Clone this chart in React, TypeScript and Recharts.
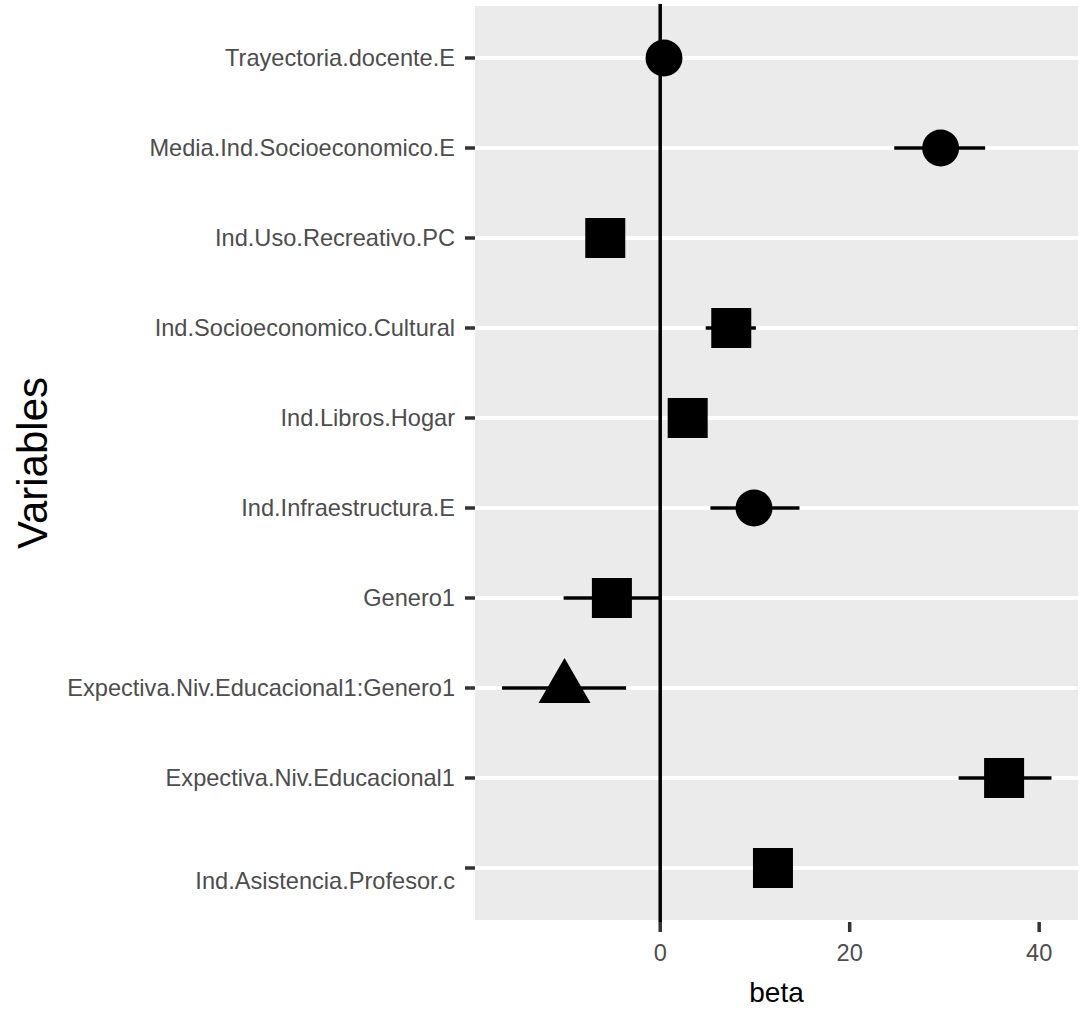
import React from 'react'
import { ScatterChart, Scatter, XAxis, YAxis, CartesianGrid, ReferenceLine, ErrorBar } from 'recharts'

// bottom to top, in plotting order
const variables = [
  '\nInd.Asistencia.Profesor.c',
  'Expectiva.Niv.Educacional1',
  'Expectiva.Niv.Educacional1:Genero1',
  'Genero1',
  'Ind.Infraestructura.E',
  'Ind.Libros.Hogar',
  'Ind.Socioeconomico.Cultural',
  'Ind.Uso.Recreativo.PC',
  'Media.Ind.Socioeconomico.E',
  'Trayectoria.docente.E',
]
const beta = [11.9, 36.3, -10.1, -5.1, 9.9, 2.9, 7.5, -5.8, 29.6, 0.4]
const lower = [10.7, 31.5, -16.7, -10.2, 5.3, 1.6, 4.8, -7.1, 24.7, -0.2]
const upper = [13.1, 41.3, -3.6, -0.1, 14.7, 4.2, 10.1, -4.5, 34.3, 1.0]
const shapes = ['square', 'square', 'triangle', 'square', 'circle', 'square', 'square', 'square', 'circle', 'circle']
const betaTicks = [0, 20, 40]

const data = variables.map((v, i) => ({
  y: i + 1,
  beta: beta[i],
  err: [beta[i] - lower[i], upper[i] - beta[i]],
  shape: shapes[i],
}))

const FONT = '"Liberation Sans", Arial, sans-serif'

const PointShape = (props: any) => {
  const { cx, cy, payload } = props
  if (payload.shape === 'circle') return <circle cx={cx} cy={cy} r={18.5} fill="#000" />
  if (payload.shape === 'triangle') {
    const s = 52
    const h = (s * Math.sqrt(3)) / 2
    const top = cy - (2 * h) / 3
    const base = cy + h / 3
    return <polygon points={`${cx},${top} ${cx - s / 2},${base} ${cx + s / 2},${base}`} fill="#000" />
  }
  return <rect x={cx - 20} y={cy - 20} width={40} height={40} fill="#000" />
}

const VarTick = ({ x, y, payload }: any) => {
  const lines = String(variables[payload.value - 1] ?? '').split('\n')
  const lh = 26
  const y0 = y - ((lines.length - 1) * lh) / 2
  return (
    <text x={x} y={y0} textAnchor="end" dominantBaseline="central" fill="#4D4D4D" fontSize={23.6} fontFamily={FONT}>
      {lines.map((l, i) => (
        <tspan key={i} x={x} dy={i === 0 ? 0 : lh}>{l}</tspan>
      ))}
    </text>
  )
}

const YTitle = ({ viewBox }: any) => {
  const x = 47
  const cy = viewBox.y + viewBox.height / 2
  return (
    <text x={x} y={cy} transform={`rotate(-90, ${x}, ${cy})`} textAnchor="middle" fill="#000" fontSize={42} fontFamily={FONT}>
      Variables
    </text>
  )
}

export default function App() {
  return (
    <div style={{ position: 'absolute', left: 0, top: 0, background: '#fff' }}>
      <ScatterChart width={1083} height={1010} margin={{ top: 4, right: 5, bottom: 0, left: 0 }}>
        <CartesianGrid vertical={false} stroke="#fff" strokeWidth={3.8} fill="#EBEBEB" fillOpacity={1} />
        <XAxis
          type="number"
          dataKey="beta"
          domain={[-19.55, 44.1]}
          ticks={betaTicks}
          allowDataOverflow
          axisLine={false}
          tickLine={{ stroke: '#333', strokeWidth: 3.5 }}
          tickSize={10}
          tickMargin={12}
          height={88}
          tick={{ fill: '#4D4D4D', fontSize: 23.6, fontFamily: FONT }}
          label={{ value: 'beta', position: 'insideBottom', offset: 8, fill: '#000', fontSize: 28, fontFamily: FONT }}
        />
        <YAxis
          type="number"
          dataKey="y"
          domain={[0.4, 10.6]}
          ticks={[1, 2, 3, 4, 5, 6, 7, 8, 9, 10]}
          interval={0}
          allowDataOverflow
          axisLine={false}
          tickLine={{ stroke: '#333', strokeWidth: 3.5 }}
          tickSize={10}
          tickMargin={10}
          width={475}
          tick={<VarTick />}
          label={{ content: <YTitle /> }}
        />
        <ReferenceLine x={0} stroke="#000" strokeWidth={3.5} />
        <Scatter data={data} shape={<PointShape />} isAnimationActive={false}>
          <ErrorBar dataKey="err" direction="x" width={0} stroke="#000" strokeWidth={3.5} />
        </Scatter>
      </ScatterChart>
    </div>
  )
}
